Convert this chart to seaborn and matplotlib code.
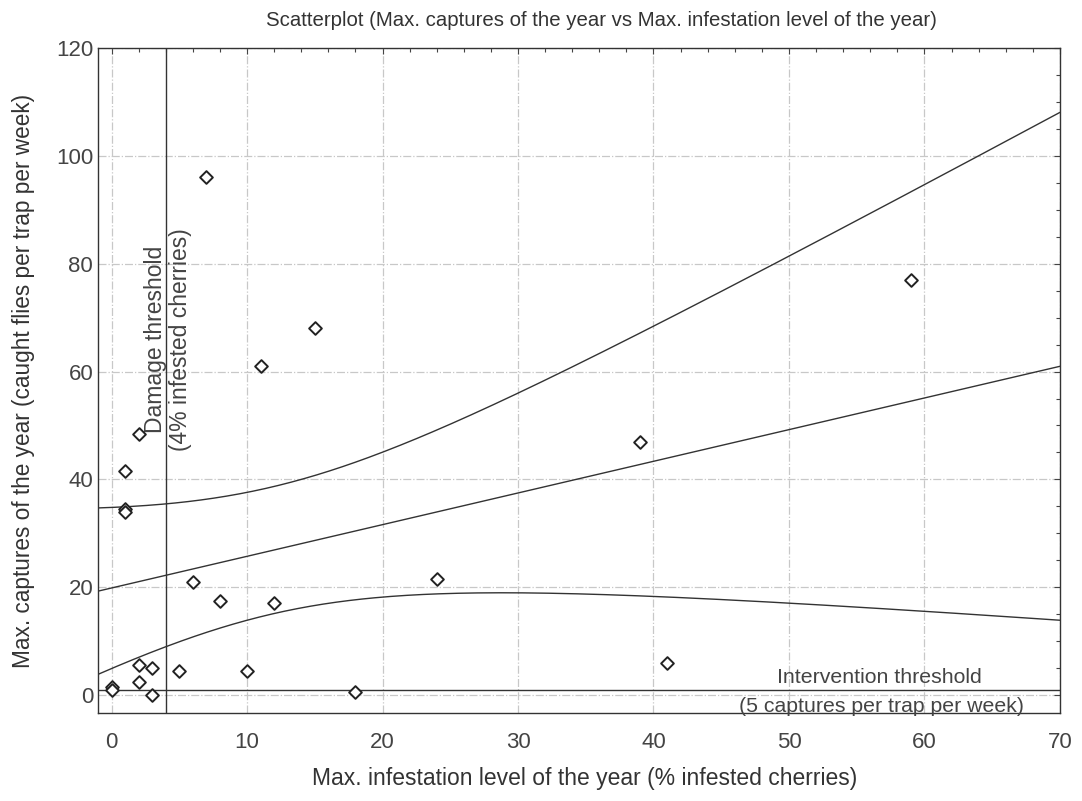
import numpy as np
import pandas as pd
import seaborn as sns
import matplotlib.pyplot as plt
from matplotlib.ticker import MultipleLocator

# infestation (% infested cherries) vs max captures per trap per week
infestation = [0, 0, 1, 1, 1, 2, 2, 2, 3, 3, 5, 6, 7, 8, 10, 11, 12, 15, 18, 24, 39, 41, 59]
captures = [1.5, 1, 41.5, 34.5, 34, 48.5, 5.5, 2.5, 5, 0, 4.5, 21, 96, 17.5, 4.5, 61, 17, 68, 0.5, 21.5, 47, 6, 77]

damage_threshold = 4
intervention_threshold = 1

df = pd.DataFrame({'x': infestation, 'y': captures})

sns.set_style('white')
plt.rcParams['font.family'] = ['Liberation Sans', 'DejaVu Sans']

fig = plt.figure(figsize=(10.82, 8.01), dpi=100)
ax = fig.add_axes([0.0906, 0.11, 0.889, 0.83])

# linear fit and 95% confidence band
x = np.array(infestation, dtype=float)
y = np.array(captures, dtype=float)
n = len(x)
slope, intercept = np.polyfit(x, y, 1)
resid = y - (intercept + slope * x)
s = np.sqrt(np.sum(resid ** 2) / (n - 2))
t = 2.08
xs = np.linspace(-1, 70, 300)
fit = intercept + slope * xs
half = t * s * np.sqrt(1 / n + (xs - x.mean()) ** 2 / np.sum((x - x.mean()) ** 2))

line_kw = dict(color='#333333', linewidth=1.0)
ax.plot(xs, fit, **line_kw)
ax.plot(xs, fit + half, **line_kw)
ax.plot(xs, fit - half, **line_kw)

ax.axvline(damage_threshold, **line_kw)
ax.axhline(intervention_threshold, **line_kw)

sns.scatterplot(data=df, x='x', y='y', ax=ax, marker='D', s=42,
                facecolor='white', edgecolor='#222222', linewidth=1.4, zorder=5)

ax.set_xlim(-1, 70)
ax.set_ylim(-3.3, 120)
ax.xaxis.set_major_locator(MultipleLocator(10))
ax.xaxis.set_minor_locator(MultipleLocator(2))
ax.yaxis.set_major_locator(MultipleLocator(20))
ax.yaxis.set_minor_locator(MultipleLocator(5))
ax.tick_params(which='both', direction='in', top=True, right=True,
               colors='#444444', labelsize=16, length=4, width=0.8)
ax.tick_params(which='minor', length=3)
ax.tick_params(axis='x', pad=14)
ax.grid(True, which='major', color='#c8c8c8', linestyle='-.', linewidth=0.9)
for sp in ax.spines.values():
    sp.set_color('#333333')
    sp.set_linewidth(1.0)

ax.text(3.25, 66, 'Damage threshold', rotation=90,
        ha='center', va='center', fontsize=16.5, color='#444444')
ax.text(5.1, 66, '(4% infested cherries)', rotation=90,
        ha='center', va='center', fontsize=16.5, color='#444444')
ax.text(56.7, 3.2, 'Intervention threshold', ha='center', va='center',
        fontsize=15.3, color='#444444')
ax.text(56.8, -2.2, '(5 captures per trap per week)', ha='center', va='center',
        fontsize=15.3, color='#444444')

ax.set_title('Scatterplot (Max. captures of the year vs Max. infestation level of the year)',
             fontsize=14.7, color='#333333', pad=16, x=0.523)
ax.set_xlabel('Max. infestation level of the year (% infested cherries)',
              fontsize=16.5, color='#333333', labelpad=10, x=0.506)
ax.set_ylabel('Max. captures of the year (caught flies per trap per week)',
              fontsize=16.3, color='#333333', labelpad=15)

fig.savefig('out.png', dpi=100)
